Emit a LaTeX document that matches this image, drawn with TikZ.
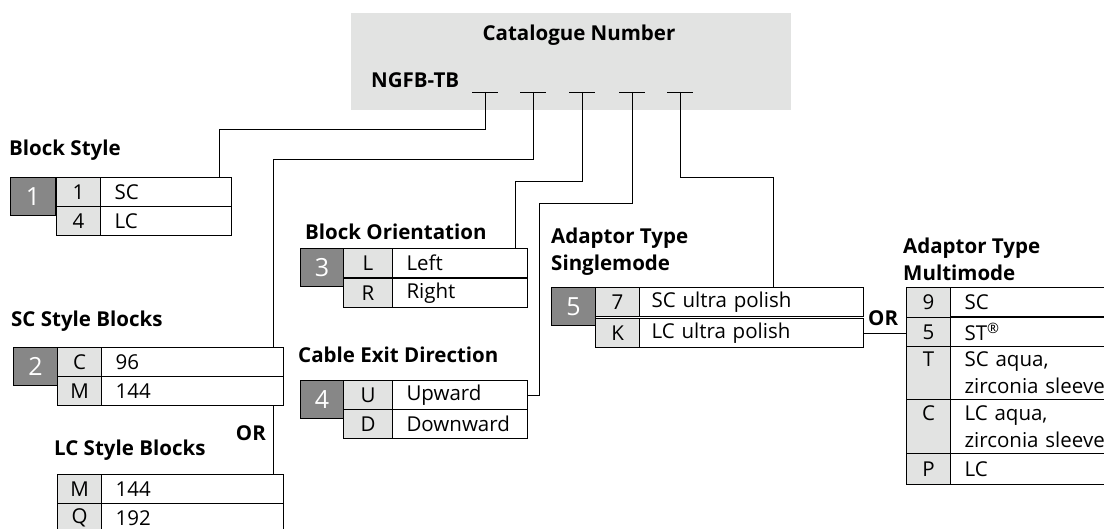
\documentclass[tikz,border=0pt]{standalone}
\usepackage{fontspec}
\setmainfont{Open Sans}
\usetikzlibrary{positioning}

\definecolor{numgray}{RGB}{135,135,135}
\definecolor{cellgray}{RGB}{226,227,226}

\begin{document}
\begin{tikzpicture}[x=1pt, y=-1pt,
        cell/.style={draw, line width=1.1pt, anchor=north west, inner sep=0pt,
            minimum height=29pt, font=\fontsize{20.5}{27}\selectfont},
        numbox/.style={cell, fill=numgray, text=white, minimum width=45pt,
            minimum height=38pt, font=\fontsize{25}{28}\selectfont},
        code/.style={cell, fill=cellgray, align=center, minimum width=44pt},
        desc/.style={cell, align=left, inner xsep=14pt, text width=#1},
        title/.style={anchor=west, inner sep=0pt, align=left,
            font=\bfseries\fontsize{20.5}{27}\selectfont},
        link/.style={line width=0.9pt}]
    \useasboundingbox (0,0) rectangle (1104,529);

    \node[fill=cellgray, anchor=north west, inner sep=0pt,
        minimum width=440pt, minimum height=97pt] (catbox) at (351,13) {};
    \node[title, anchor=center] (cattitle) at (579,35) {Catalogue Number};
    \node[title] (prefix) at (371,80) {NGFB-TB};

    \foreach \x [count=\i] in {485,533,582,632,680} {
        \coordinate (t\i) at (\x,92);
        \draw[link] (\x-13,92) -- (\x+13,92);
    }

    % block style
    \node[title] (bstitle) at (9,150) {Block Style};
    \node[numbox] (bsn) at (10,177) {1};
    \node[desc=103pt] (bsd1) at (100,177) {SC};
    \node[desc=103pt] (bsd2) at (100,206) {LC};
    \node[code] (bsc1) at (56,177) {1};
    \node[code] (bsc2) at (56,206) {4};

    % sc style blocks
    \node[title] (sctitle) at (11,321) {SC Style Blocks};
    \node[numbox, minimum width=44pt] (scn) at (13,347) {2};
    \node[desc=154pt] (scd1) at (101,347) {96};
    \node[desc=154pt] (scd2) at (101,376) {144};
    \node[code] (scc1) at (57,347) {C};
    \node[code] (scc2) at (57,376) {M};

    \node[title, anchor=east] (or1) at (266,433) {OR};

    % lc style blocks
    \node[title] (lctitle) at (54,450) {LC Style Blocks};
    \node[desc=154pt] (lcd1) at (101,474) {144};
    \node[desc=154pt] (lcd2) at (101,503) {192};
    \node[code] (lcc1) at (57,474) {M};
    \node[code] (lcc2) at (57,503) {Q};

    % block orientation
    \node[title] (botitle) at (305,232) {Block Orientation};
    \node[numbox, minimum width=43pt] (bon) at (300,248) {3};
    \node[desc=107pt] (bod1) at (392,248) {Left};
    \node[desc=107pt] (bod2) at (392,278) {Right};
    \node[code, minimum width=49pt] (boc1) at (343,248) {L};
    \node[code, minimum width=49pt] (boc2) at (343,278) {R};

    % cable exit
    \node[title] (cetitle) at (298,355) {Cable Exit Direction};
    \node[numbox, minimum width=43pt] (cen) at (300,380) {4};
    \node[desc=107pt] (ced1) at (392,380) {Upward};
    \node[desc=107pt] (ced2) at (392,409) {Downward};
    \node[code, minimum width=49pt] (cec1) at (343,380) {U};
    \node[code, minimum width=49pt] (cec2) at (343,409) {D};

    % adaptor singlemode
    \node[title] (smtitle) at (551,252) {Adaptor Type\\Singlemode};
    \node[numbox, minimum width=44pt] (smn) at (551,287) {5};
    \node[desc=200pt, inner xsep=12pt] (smd1) at (639,287) {SC ultra polish};
    \node[desc=200pt, inner xsep=12pt] (smd2) at (639,318) {LC ultra polish};
    \node[code] (smc1) at (595,287) {7};
    \node[code] (smc2) at (595,318) {K};

    \node[title] (or2) at (868,318) {OR};

    % adaptor multimode
    \node[title] (mmtitle) at (903,259) {Adaptor Type\\Multimode};
    \node[desc=180pt] (mmd1) at (950,287) {SC};
    \node[desc=180pt] (mmd2) at (950,317) {ST\textsuperscript{\textregistered}};
    \node[desc=180pt, minimum height=53pt] (mmd3) at (950,346) {SC aqua,\\zirconia sleeve};
    \node[desc=180pt, minimum height=54pt] (mmd4) at (950,399) {LC aqua,\\zirconia sleeve};
    \node[desc=180pt, minimum height=31pt] (mmd5) at (950,453) {LC};
    \node[code, minimum height=30pt] (mmc1) at (906,287) {9};
    \node[code] (mmc2) at (906,317) {5};
    \node[code, minimum height=53pt] (mmc3) at (906,346) {T\\\phantom{T}};
    \node[code, minimum height=54pt] (mmc4) at (906,399) {C\\\phantom{C}};
    \node[code, minimum height=31pt] (mmc5) at (906,453) {P};

    \draw[link] (t1) |- (219,129) -- (bsd1.north -| 219,0);
    \draw[link] (t2) |- (273,159) -- (scd1.north -| 273,0);
    \draw[link] (t3) |- (515,181) -- (bod1.north -| 515,0);
    \draw[link] (t4) |- (539,203) |- (ced1.east);
    \draw[link] (t5) |- (773,177) -- (smd1.north -| 773,0);
    \draw[link] (scd2.south -| 273,0) -- (lcd1.north -| 273,0);
    \draw[link] (smd2.east) -- (smd2.east -| mmc1.west);
\end{tikzpicture}
\end{document}
